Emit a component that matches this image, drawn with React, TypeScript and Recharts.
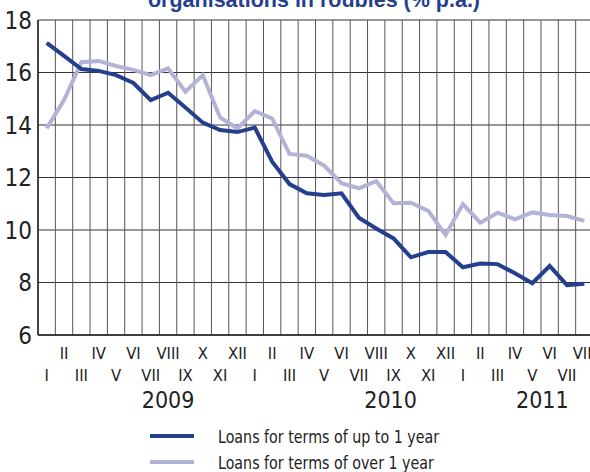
import { LineChart, Line, XAxis, YAxis, CartesianGrid, ReferenceLine, Legend } from 'recharts';

// months Jan 2009 .. Aug 2011
const monthLabels = [
  'I', 'II', 'III', 'IV', 'V', 'VI', 'VII', 'VIII', 'IX', 'X', 'XI', 'XII',
  'I', 'II', 'III', 'IV', 'V', 'VI', 'VII', 'VIII', 'IX', 'X', 'XI', 'XII',
  'I', 'II', 'III', 'IV', 'V', 'VI', 'VII', 'VIII',
];
const yearLabels = ['2009', '2010', '2011'];
const yearTickIndex = [7, 20, 28];

const upTo1Year = [
  17.13, 16.63, 16.13, 16.06, 15.9, 15.6, 14.95, 15.23, 14.67, 14.09, 13.81, 13.73,
  13.9, 12.6, 11.75, 11.4, 11.33, 11.4, 10.47, 10.06, 9.68, 8.96, 9.16, 9.16,
  8.58, 8.72, 8.7, 8.35, 7.97, 8.63, 7.9, 7.95,
];
const over1Year = [
  13.87, 14.95, 16.39, 16.44, 16.25, 16.1, 15.9, 16.16, 15.27, 15.9, 14.29, 13.87,
  14.53, 14.25, 12.9, 12.83, 12.45, 11.78, 11.59, 11.86, 11.02, 11.04, 10.73, 9.81,
  10.99, 10.28, 10.66, 10.41, 10.67, 10.57, 10.53, 10.35,
];
const yTicks = [6, 8, 10, 12, 14, 16, 18];

const data = monthLabels.map((m, i) => ({ idx: i, month: m, short: upTo1Year[i], long: over1Year[i] }));
const monthIdx = monthLabels.map((_, i) => i);
const boundaries = monthLabels.map((_, i) => i - 0.5).concat([monthLabels.length - 0.5]);

const narrow = '"Liberation Sans Narrow", "DejaVu Sans Condensed", "Arial Narrow", sans-serif';
const BLUE = '#253f8e';
const GREY = '#b2b3d6';

const yearShift: Record<number, number> = { 7: 0, 20: -3, 28: 10 };

function MonthTick(props: any) {
  const { x, y, payload } = props;
  const i = payload.value as number;
  const upper = i % 2 === 1;
  const yi = yearTickIndex.indexOf(i);
  return (
    <g fontFamily={narrow} fill="#222">
      <text x={x} y={y + (upper ? 24 : 46)} textAnchor="middle" fontSize={16.5}>
        {monthLabels[i]}
      </text>
      {yi >= 0 && (
        <text x={x + yearShift[i]} y={y + 73} textAnchor="middle" fontSize={23}>
          {yearLabels[yi]}
        </text>
      )}
    </g>
  );
}

function LegendBox(props: any) {
  const items = [...(props.payload || [])].reverse();
  return (
    <div style={{ fontFamily: narrow, fontSize: 18, color: '#222' }}>
      {items.map((p: any) => (
        <div key={p.value} style={{ display: 'flex', alignItems: 'center', height: 26, whiteSpace: 'nowrap' }}>
          <svg width={44} height={6} style={{ marginRight: 24 }}>
            <line x1={0} y1={3} x2={44} y2={3} stroke={p.color} strokeWidth={4} />
          </svg>
          <span style={{ display: 'inline-block', transform: 'scaleX(0.88)', transformOrigin: 'left center' }}>
            {p.value}
          </span>
        </div>
      ))}
    </div>
  );
}

export default function App() {
  return (
    <div style={{ position: 'fixed', left: 0, top: 0, width: 590, height: 472, overflow: 'hidden', background: '#fff' }}>
      <svg width={590} height={20} style={{ position: 'absolute', left: 0, top: 0 }}>
        <text x={314} y={6.5} textAnchor="middle" fontFamily="'Liberation Sans', Arial, sans-serif"
          fontWeight="bold" fontSize={21.5} fill={BLUE}>
          organisations in roubles (% p.a.)
        </text>
      </svg>
      <LineChart width={600} height={472} data={data} margin={{ top: 20, right: 7, left: 0, bottom: 0 }}>
        <CartesianGrid vertical={false} stroke="#333" strokeWidth={1} />
        {boundaries.map((b) => (
          <ReferenceLine key={b} x={b} stroke="#555" strokeWidth={1} />
        ))}
        <XAxis
          type="number"
          dataKey="idx"
          domain={[-0.5, 31.5]}
          ticks={monthIdx}
          interval={0}
          allowDataOverflow
          tickLine={false}
          tickSize={0}
          tickMargin={0}
          height={137}
          axisLine={{ stroke: '#222', strokeWidth: 1.5 }}
          tick={<MonthTick />}
        />
        <YAxis
          domain={[6, 18]}
          ticks={yTicks}
          width={38}
          tickLine={false}
          tickSize={0}
          tickMargin={6}
          axisLine={{ stroke: '#222', strokeWidth: 1.5 }}
          tick={{ fontFamily: narrow, fontSize: 24, fill: '#222' }}
        />
        <Legend
          layout="horizontal"
          verticalAlign="middle"
          align="center"
          wrapperStyle={{ top: 423, left: 150, width: 360 }}
          content={<LegendBox />}
        />
        <Line type="linear" dataKey="long" name="Loans for terms of over 1 year" stroke={GREY}
          strokeWidth={4} dot={false} isAnimationActive={false} />
        <Line type="linear" dataKey="short" name="Loans for terms of up to 1 year" stroke={BLUE}
          strokeWidth={4} dot={false} isAnimationActive={false} />
      </LineChart>
    </div>
  );
}
